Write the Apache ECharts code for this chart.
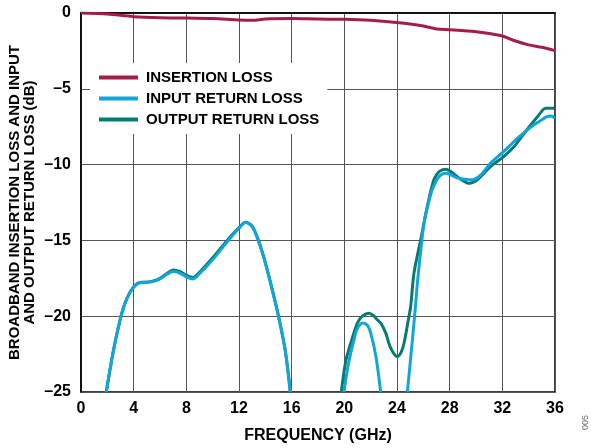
<!DOCTYPE html>
<html>
<head>
<meta charset="utf-8">
<script src="https://cdn.jsdelivr.net/npm/echarts@6/dist/echarts.min.js"></script>
<style>
  html, body { margin: 0; padding: 0; background: #fff; }
  #chart { width: 591px; height: 448px; }
</style>
</head>
<body>
<div id="chart"></div>
<script>
// x ticks (GHz) and y ticks (dB)
const freqTicks = [0, 4, 8, 12, 16, 20, 24, 28, 32, 36];
const dbTicks = [0, -5, -10, -15, -20, -25];

// insertion loss
const insertionFreq = [0, 2, 4, 6, 8, 10, 12, 13, 14, 16, 18, 20, 22, 23, 24, 25, 26, 27, 28, 30, 31, 32, 33, 34, 35, 36];
const insertionLoss = [0, -0.07, -0.24, -0.31, -0.33, -0.37, -0.46, -0.48, -0.4, -0.37, -0.4, -0.42, -0.48, -0.55, -0.62, -0.72, -0.86, -1.05, -1.1, -1.23, -1.35, -1.52, -1.85, -2.1, -2.26, -2.48];

// input return loss, three visible pieces (rest is below -25 dB)
const inputFreqA = [1.92, 2.48, 3.1, 3.5, 4, 4.5, 5, 5.5, 6, 6.5, 7, 7.5, 8, 8.5, 9, 10, 11, 12, 12.5, 13, 13.5, 14, 14.5, 15, 15.5, 15.9];
const inputLossA = [-25, -22.2, -19.8, -18.8, -18.08, -17.78, -17.76, -17.7, -17.54, -17.25, -17.05, -17.15, -17.4, -17.54, -17.2, -16.28, -15.2, -14.2, -13.82, -14.09, -15.1, -16.5, -18.2, -20.0, -22.2, -25];
const inputFreqB = [19.97, 20.3, 20.73, 21.0, 21.4, 21.75, 22.0, 22.4, 22.76];
const inputLossB = [-25, -23.2, -21.56, -20.8, -20.45, -20.6, -21.1, -22.66, -25];
const inputFreqC = [24.79, 25.17, 25.4, 25.55, 25.9, 26.1, 26.4, 26.7, 27.2, 27.7, 28.08, 28.5, 29.1, 29.73, 30.36, 31.1, 32.1, 33.16, 33.9, 34.67, 35.4, 35.7, 36];
const inputLossC = [-25, -21.56, -19.36, -17.8, -14.9, -13.6, -12.5, -11.6, -10.79, -10.57, -10.68, -10.85, -10.96, -11.0, -10.68, -9.91, -9.14, -8.26, -7.71, -7.23, -6.84, -6.8, -6.94];

// output return loss, two visible pieces
const outputFreqA = [1.92, 2.48, 3.1, 3.5, 4, 4.5, 5, 5.5, 6, 6.5, 7, 7.5, 8, 8.5, 9, 10, 11, 12, 12.5, 13, 13.5, 14, 14.5, 15, 15.5, 15.9];
const outputLossA = [-25, -22.2, -19.8, -18.8, -18.08, -17.78, -17.76, -17.68, -17.5, -17.2, -16.95, -17.05, -17.3, -17.45, -17.1, -16.15, -15.1, -14.15, -13.8, -14.05, -15.05, -16.45, -18.15, -20.0, -22.2, -25];
const outputFreqB = [19.77, 20.1, 20.48, 20.99, 21.37, 21.87, 22.2, 22.5, 22.8, 23.14, 23.52, 24.03, 24.3, 24.53, 24.91, 25.04, 25.29, 25.8, 26.3, 26.8, 27.2, 27.7, 28.08, 28.84, 29.48, 30.1, 31.1, 32.1, 32.9, 33.66, 34.67, 35.3, 35.94];
const outputLossB = [-25, -23.0, -21.8, -20.45, -20.0, -19.8, -19.95, -20.24, -20.5, -21.1, -22.1, -22.66, -22.4, -21.8, -20.0, -19.36, -17.16, -14.96, -12.77, -11.0, -10.46, -10.3, -10.46, -10.96, -11.23, -11.0, -10.13, -9.47, -8.81, -7.93, -6.84, -6.28, -6.28];

const names = ['INSERTION LOSS', 'INPUT RETURN LOSS', 'OUTPUT RETURN LOSS'];
const colors = ['#A51C4B', '#12A5DA', '#067C70'];

function zip(xs, ys) {
  return xs.map((x, i) => [x, ys[i]]);
}
// join pieces with a gap point so the line breaks
function pieces(...parts) {
  const out = [];
  parts.forEach((p, i) => {
    if (i > 0) out.push([null, null]);
    out.push(...p);
  });
  return out;
}

const font = 'Liberation Sans, Arial, sans-serif';
const chart = echarts.init(document.getElementById('chart'));

const lineSeries = (name, color, data) => ({
  name,
  type: 'line',
  data,
  symbol: 'none',
  smooth: 0.3,
  connectNulls: false,
  lineStyle: { color, width: 3 },
  itemStyle: { color },
});

chart.setOption({
  animation: false,
  grid: {
    left: 81, right: 36, top: 13, bottom: 56,
    outerBoundsMode: 'none',
    show: true, borderColor: '#000', borderWidth: 1.5,
  },
  legend: {
    data: names,
    orient: 'vertical',
    left: 90,
    top: 63,
    backgroundColor: '#fff',
    padding: [6, 8, 6, 9],
    icon: 'path://M0,0H40V4H0Z',
    itemWidth: 39,
    itemHeight: 4,
    itemGap: 4,
    textStyle: {
      fontFamily: font, fontSize: 15, fontWeight: 'bold', color: '#000',
      lineHeight: 17, padding: [0, 0, 0, 3],
    },
  },
  xAxis: {
    type: 'value',
    min: freqTicks[0],
    max: freqTicks[freqTicks.length - 1],
    interval: 4,
    name: 'FREQUENCY (GHz)',
    nameLocation: 'middle',
    nameGap: 36,
    nameMoveOverlap: false,
    nameTextStyle: { fontFamily: font, fontSize: 16, fontWeight: 'bold', color: '#000' },
    axisLine: { lineStyle: { color: '#000', width: 1.5 } },
    axisTick: { show: false },
    axisLabel: { fontFamily: font, fontSize: 16, fontWeight: 'bold', color: '#000', margin: 9 },
    splitLine: { lineStyle: { color: '#555', width: 1 } },
  },
  yAxis: {
    type: 'value',
    min: dbTicks[dbTicks.length - 1],
    max: dbTicks[0],
    interval: 5,
    name: 'BROADBAND INSERTION LOSS AND INPUT\nAND OUTPUT RETURN LOSS (dB)',
    nameLocation: 'middle',
    nameGap: 44,
    nameMoveOverlap: false,
    nameTextStyle: { fontFamily: font, fontSize: 15, fontWeight: 'bold', color: '#000', lineHeight: 15 },
    axisLine: { lineStyle: { color: '#000', width: 1.5 } },
    axisTick: { show: false },
    axisLabel: {
      fontFamily: font, fontSize: 16, fontWeight: 'bold', color: '#000', margin: 10,
      formatter: (v) => (v === 0 ? '0' : '\u2013' + Math.abs(v)),
    },
    splitLine: { lineStyle: { color: '#555', width: 1 } },
  },
  graphic: [{
    type: 'text',
    x: 581,
    y: 430,
    rotation: Math.PI / 2,
    style: { text: '005', fontFamily: font, fontSize: 9, fill: '#666' },
  }],
  series: [
    lineSeries(names[0], colors[0], zip(insertionFreq, insertionLoss)),
    lineSeries(names[2], colors[2], pieces(zip(outputFreqA, outputLossA), zip(outputFreqB, outputLossB))),
    lineSeries(names[1], colors[1], pieces(zip(inputFreqA, inputLossA), zip(inputFreqB, inputLossB), zip(inputFreqC, inputLossC))),
  ],
});
</script>
</body>
</html>
